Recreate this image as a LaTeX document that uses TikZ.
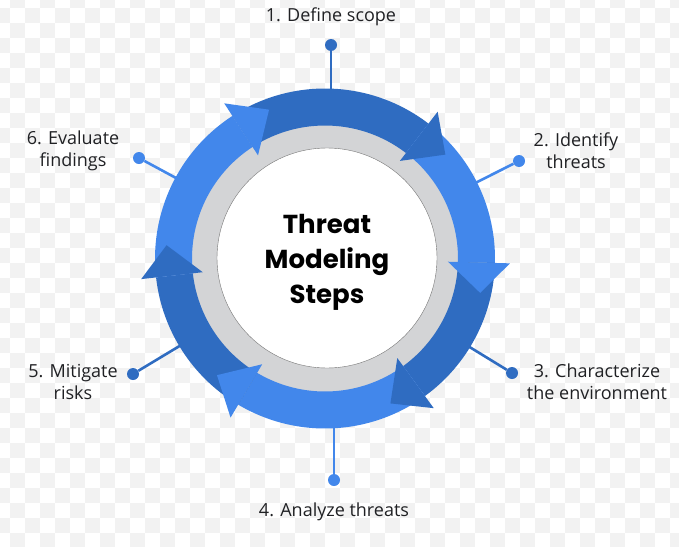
\documentclass[tikz,border=0pt]{standalone}
\usepackage{fontspec}
\setmainfont{Open Sans}
\newfontfamily\titlefont{Poppins}
\definecolor{darkb}{RGB}{47,108,193}
\definecolor{lightb}{RGB}{66,135,235}
\definecolor{ringgray}{RGB}{211,212,214}
\definecolor{bgsq}{RGB}{242,242,242}
\definecolor{txt}{RGB}{32,33,36}
\newcommand\tmband[3]{\fill[#1] (#2:170) arc[start angle=#2, end angle=#3, radius=170] -- (#3:133) arc[start angle=#3, end angle=#2, radius=133] -- cycle;}
\newcommand\tmhead[3]{\fill[#1] (#2:185) -- (#3:159) -- (#2:123) -- cycle;}
\begin{document}
\begin{tikzpicture}[x=1pt,y=-1pt,
  lbl/.style={text=txt, font=\fontsize{18}{22}\selectfont, align=center, inner sep=0pt},
  ttl/.style={text=black, font=\titlefont\bfseries\fontsize{26}{35}\selectfont, align=center, inner sep=0pt},
  dotnode/.style={circle, fill=#1, minimum size=12pt, inner sep=0pt},
  spoke/.style={draw=#1, line width=2.6pt}]
\useasboundingbox (0,0) rectangle (679,546);
\fill[white] (0,0) rectangle (679,546);
\begin{scope}
\clip (0,0) rectangle (679,546);
\foreach \r in {0,...,37}{
  \pgfmathtruncatemacro\cs{1-mod(\r,2)}
  \pgfmathtruncatemacro\cn{\cs+2}
  \foreach \c in {\cs,\cn,...,47}{
    \fill[bgsq] ({-5+15*\c},{-6.667+15*\r}) rectangle ++(15,15);
  }
}
\end{scope}
% centers
\coordinate (c) at (325,258.5);
\coordinate (w) at (327,258);
% dots
\node[dotnode=darkb]  (d1) at (331,45) {};
\node[dotnode=lightb] (d2) at (519,161) {};
\node[dotnode=darkb]  (d3) at (512,373) {};
\node[dotnode=lightb] (d4) at (334,480) {};
\node[dotnode=darkb]  (d5) at (133,374) {};
\node[dotnode=lightb] (d6) at (139,158) {};
\coordinate (e1) at (331,200);
\coordinate (e4) at (334,320);
\draw[spoke=darkb]  (d1) -- (e1);
\draw[spoke=lightb] (d2) -- (c);
\draw[spoke=darkb]  (d3) -- (c);
\draw[spoke=lightb] (d4) -- (e4);
\draw[spoke=darkb]  (d5) -- (c);
\draw[spoke=lightb] (d6) -- (c);
% rings
\fill[ringgray] (c) circle[radius=145];
\filldraw[fill=white, draw=black!55, line width=0.4pt] (w) circle[radius=110];
\begin{scope}[shift={(325,258.5)}, yscale=-1]
  \tmband{darkb}{123}{52.5}
  \tmband{lightb}{52.5}{-1.5}
  \tmband{darkb}{-1.5}{-54}
  \tmband{lightb}{-54}{-120.7}
  \tmband{darkb}{-120.7}{-173.6}
  \tmband{lightb}{-173.6}{-237}
  \tmhead{darkb}{52.5}{40.8}
  \tmhead{lightb}{-1.5}{-12.5}
  \tmhead{darkb}{-54}{-65.7}
  \tmhead{lightb}{-120.7}{-132.8}
  \tmhead{darkb}{-173.6}{-184.8}
  \tmhead{lightb}{123}{110.6}
\end{scope}
% labels
\node[ttl] (t) at (327,262) {Threat\\Modeling\\Steps};
\node[lbl] (l1) at (331,17) {1. Define scope};
\node[lbl] (l2) at (576,151) {2. Identify\\threats};
\node[lbl] (l3) at (597,382) {3. Characterize\\the environment};
\node[lbl] (l4) at (334,512) {4. Analyze threats};
\node[lbl] (l5) at (73,382) {5. Mitigate\\risks};
\node[lbl] (l6) at (73,151) {6. Evaluate\\findings};
\end{tikzpicture}
\end{document}
